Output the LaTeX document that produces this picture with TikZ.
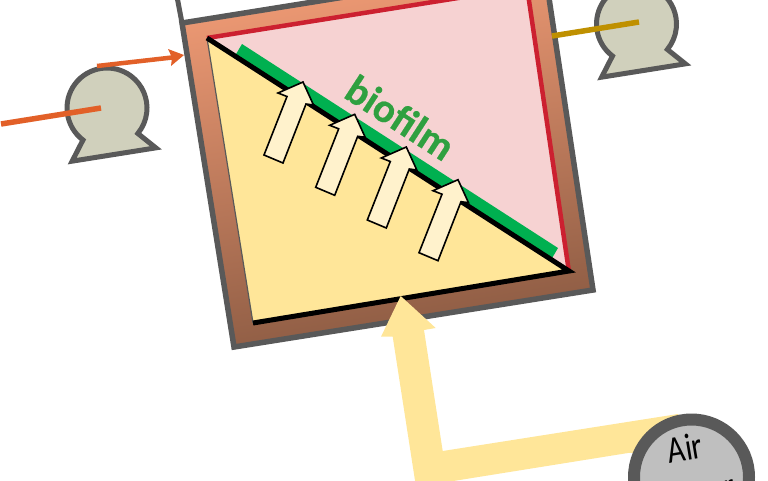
\documentclass[tikz,border=0pt]{standalone}
\usepackage{fontspec}
\setmainfont{Carlito}
\newfontfamily\boldfake[FakeBold=0.6]{Carlito Bold}
\definecolor{gborder}{HTML}{595959}
\definecolor{pumpfill}{HTML}{D0D0BC}
\definecolor{orangeline}{HTML}{E26028}
\definecolor{goldline}{HTML}{BF9000}
\definecolor{redline}{HTML}{CC2030}
\definecolor{pinkfill}{HTML}{F6D2D2}
\definecolor{yellowfill}{HTML}{FFE699}
\definecolor{creamfill}{HTML}{FFF2CC}
\definecolor{bandtop}{HTML}{F29C76}
\definecolor{bandbottom}{HTML}{8A5A42}
\definecolor{biogreen}{HTML}{00B050}
\definecolor{biotext}{HTML}{2FA040}
\tikzset{
  pumpbody/.style={draw=gborder,line width=5pt,fill=pumpfill,line join=miter},
  smallarrow/.style={draw=black,line width=1.6pt,fill=creamfill,line join=miter},
  pipeline/.style={line width=5.5pt},
}
\newcommand{\pumpshape}{+(126.9:40) arc[start angle=126.9,end angle=399.5,radius=40] -- ++(18,14.4) -- ++(-83.7,13.3) -- cycle}
\newcommand{\upflow}[2]{\draw[smallarrow,shift={(#1,#2)}] (303,82) -- (313.5,105) -- (306,104) -- (283,163) -- (264,155) -- (287,96.5) -- (278,93) -- cycle;}
\begin{document}
\begin{tikzpicture}[x=1pt,y=1pt,yscale=-1]
\useasboundingbox (0,0) rectangle (768,480);
\clip (0,0) rectangle (768,480);
% chimney edge
\draw[gborder,line width=5pt] (176.5,-6) -- (182,23);
% reactor frame
\shade[top color=bandtop,bottom color=bandbottom,shading angle=9.5] (182,23) -- (234,347) -- (593,290) -- (544,-35) -- cycle;
\draw[gborder,line width=5.5pt,line join=miter] (182,23) -- (234,347) -- (593,290) -- (544,-35) -- cycle;
% pink chamber
\fill[pinkfill] (207,38) -- (569,271) -- (527,-13) -- cycle;
\draw[redline,line width=4.5pt,line join=miter] (207,38) -- (527,-13) -- (569,272);
% yellow chamber
\fill[yellowfill] (207,38) -- (569,271) -- (253,323) -- cycle;
\draw[gborder,line width=1.2pt] (207,38) -- (253,323);
% biofilm
\fill[biogreen] (242,44) -- (235.5,55) -- (551.5,259) -- (558,248) -- cycle;
\draw[black,line width=5pt,line join=miter] (207,38) -- (569,271) -- (253,323);
% small arrows
\upflow{0}{0}
\upflow{51.7}{32.3}
\upflow{103.3}{65}
\upflow{155}{97.7}
\node[text=biotext,rotate=-33,inner sep=0pt] (biofilmlabel) at (400.5,117.5) {\boldfake\fontsize{41}{41}\selectfont biofilm};
% air line and arrow
\fill[yellowfill] (400.7,296) -- (435.7,328) -- (424,330) -- (442.7,451) -- (678,414) -- (690,450) -- (628,453) -- (416,487) -- (392.7,336.7) -- (381,336.7) -- cycle;
% blower
\node[circle,draw=gborder,line width=12pt,fill=black!25,minimum size=115pt,inner sep=0pt] (blower) at (691.5,477) {};
\node[rotate=9.5,inner sep=0pt,anchor=base] (blowerlabela) at (687,460.5) {\fontsize{38}{38}\selectfont\scalebox{.8}[1]{Air}};
\node[rotate=9.5,inner sep=0pt,anchor=base east] (blowerlabelb) at (736,494) {\fontsize{30}{30}\selectfont blower};
% pumps
\coordinate (feedstart) at (1,124);
\coordinate (feedend) at (101,108);
\coordinate (gasstart) at (552,36);
\coordinate (gasend) at (639,22);
\coordinate (inleta) at (97,66);
\coordinate (inletb) at (184,55);
\draw[pumpbody] (107,108) \pumpshape;
\draw[pumpbody] (636.5,24) \pumpshape;
\draw[orangeline,pipeline] (feedstart) -- (feedend);
\draw[goldline,pipeline] (gasstart) -- (gasend);
\draw[orangeline,line width=4.5pt] (inleta) -- (172,57.5);
\fill[orangeline] (inletb) -- (171,66) -- (172,57.5) -- (168,49) -- cycle;
\end{tikzpicture}
\end{document}
